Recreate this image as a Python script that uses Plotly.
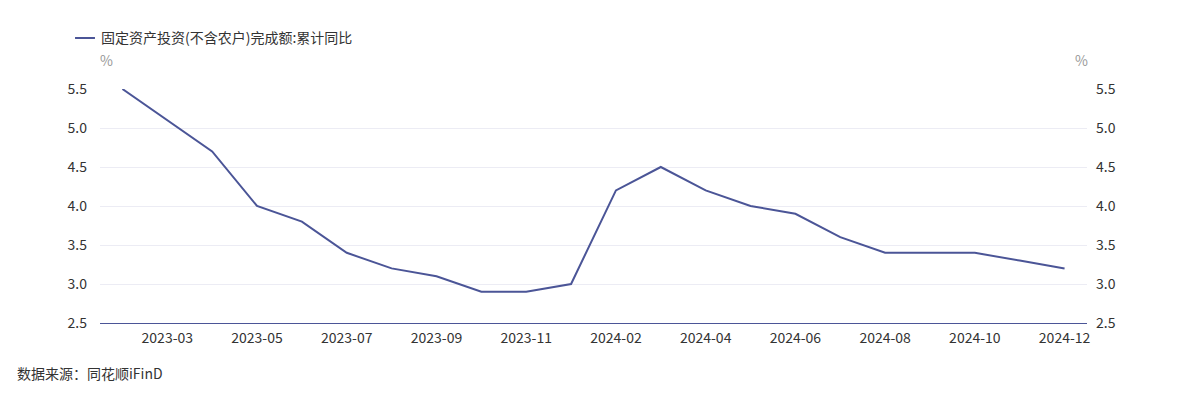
import plotly.graph_objects as go

months = ["2023-02", "2023-03", "2023-04", "2023-05", "2023-06", "2023-07", "2023-08",
          "2023-09", "2023-10", "2023-11", "2023-12", "2024-02", "2024-03", "2024-04",
          "2024-05", "2024-06", "2024-07", "2024-08", "2024-09", "2024-10", "2024-11",
          "2024-12"]
values = [5.5, 5.1, 4.7, 4.0, 3.8, 3.4, 3.2, 3.1, 2.9, 2.9, 3.0, 4.2, 4.5, 4.2,
          4.0, 3.9, 3.6, 3.4, 3.4, 3.4, 3.3, 3.2]
tick_labels = ["2023-03", "2023-05", "2023-07", "2023-09", "2023-11", "2024-02",
               "2024-04", "2024-06", "2024-08", "2024-10", "2024-12"]
y_ticks = [2.5, 3.0, 3.5, 4.0, 4.5, 5.0, 5.5]
series_name = "固定资产投资(不含农户)完成额:累计同比"
source_text = "数据来源：同花顺iFinD"

FONT = "Noto Sans CJK SC, Microsoft YaHei, sans-serif"
LINE = "#4b5597"
TXT = "#333333"

fig = go.Figure()
fig.add_trace(go.Scatter(x=months, y=values, mode="lines", name=series_name,
                         line=dict(color=LINE, width=2)))
fig.add_trace(go.Scatter(x=months, y=values, mode="lines", yaxis="y2",
                         showlegend=False, hoverinfo="skip",
                         line=dict(color="rgba(0,0,0,0)", width=0)))

yfmt = dict(range=[2.5, 5.5], tickvals=y_ticks, ticktext=[f"{v:.1f}" for v in y_ticks],
            zeroline=False, showline=False, ticks="",
            tickfont=dict(size=14, color=TXT, family=FONT))

fig.update_layout(
    width=1186, height=400,
    margin=dict(l=100, r=99, t=89, b=77, autoexpand=False),
    paper_bgcolor="white", plot_bgcolor="white",
    font=dict(family=FONT, size=14, color=TXT),
    xaxis=dict(type="category", range=[-0.5, len(months) - 0.5],
               tickvals=tick_labels, ticktext=tick_labels, ticks="",
               ticklabelstandoff=2,
               showgrid=False, showline=True, linecolor=LINE, linewidth=1,
               tickfont=dict(size=14, color=TXT, family=FONT)),
    yaxis=dict(side="left", ticklabelstandoff=12, showgrid=True,
               gridcolor="#ececf4", gridwidth=1, **yfmt),
    yaxis2=dict(side="right", overlaying="y", ticklabelstandoff=8, showgrid=False, **yfmt),
    showlegend=False,
    shapes=[
        dict(type="line", xref="paper", yref="paper", x0=-0.0253, x1=-0.0051,
             y0=1.218, y1=1.218, line=dict(color=LINE, width=2)),
    ],
    annotations=[
        dict(text=series_name, xref="paper", yref="paper", x=-0.001, y=1.222,
             xanchor="left", yanchor="middle", showarrow=False,
             font=dict(size=14, color=TXT, family=FONT)),
        dict(text="%", xref="paper", yref="paper", x=0.0061, y=1.124, xanchor="center",
             yanchor="middle", showarrow=False, font=dict(size=14, color="#999999", family=FONT)),
        dict(text="%", xref="paper", yref="paper", x=0.994, y=1.124, xanchor="center",
             yanchor="middle", showarrow=False, font=dict(size=14, color="#999999", family=FONT)),
        dict(text=source_text, xref="paper", yref="paper", x=-0.0863, y=-0.2137,
             xanchor="left", yanchor="middle", showarrow=False,
             font=dict(size=14, color=TXT, family=FONT)),
    ],
)

fig.write_html("out.html", config={"displayModeBar": False},
               post_script="document.body.style.margin='0';document.body.style.padding='0';")
